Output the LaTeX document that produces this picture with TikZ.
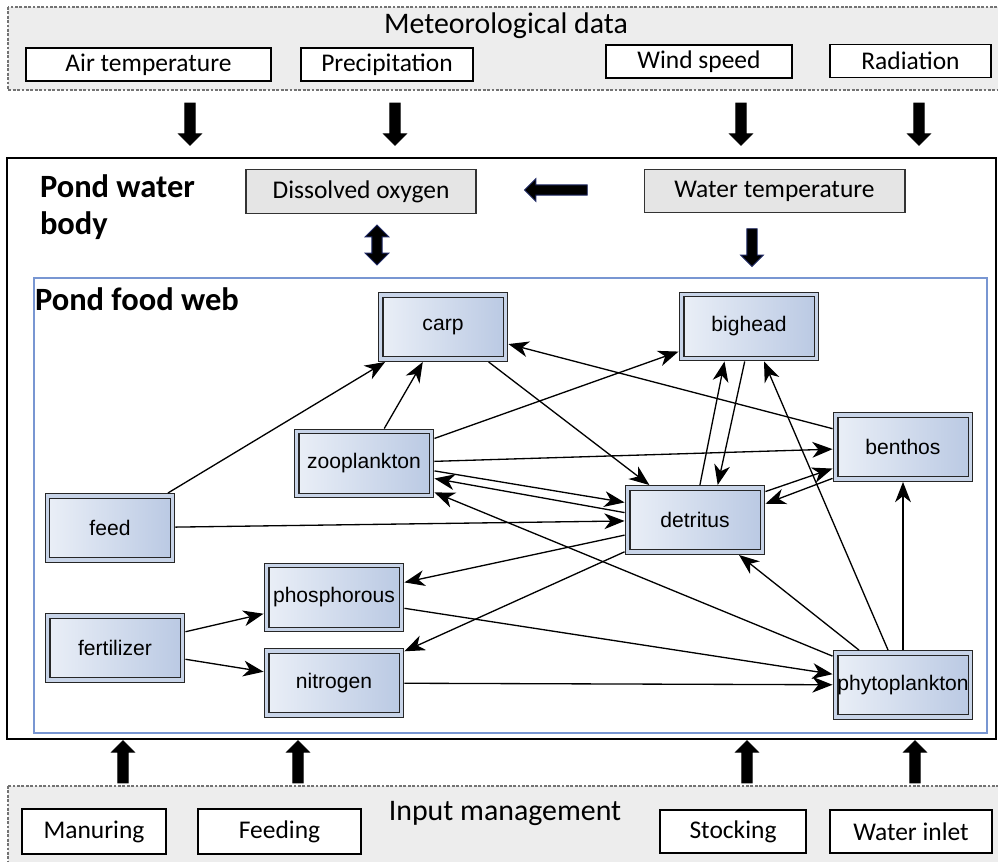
\documentclass[tikz,border=0pt]{standalone}
\usepackage{fontspec}
\setmainfont{Carlito}
\newfontfamily\webfamily{Liberation Sans}
\usetikzlibrary{arrows.meta,shapes.arrows,shadows}
\definecolor{rimblue}{RGB}{200,212,232}
\definecolor{webleft}{RGB}{234,239,247}
\definecolor{webright}{RGB}{186,201,227}
\definecolor{webframe}{RGB}{120,150,210}
\definecolor{arrowrim}{RGB}{30,40,100}
\newcommand\metfont{\fontsize{14.5}{17}\selectfont}
\newcommand\titlefont{\fontsize{17}{20}\selectfont}
\newcommand\headfont{\fontsize{18.5}{21}\selectfont\bfseries}
\newcommand\netfont{\webfamily\fontsize{12}{14}\selectfont}
\begin{document}
\begin{tikzpicture}[x=0.02cm,y=-0.02cm,inner sep=0pt,outer sep=0pt,
band/.style={draw=black!55,fill=black!7,line width=0.6pt,dash pattern=on 1.6pt off 0.9pt},
metbox/.style={draw,fill=white,line width=0.6pt,minimum height=0.66cm,font=\metfont},
waterbox/.style={draw=black!80,fill=black!10,line width=0.6pt,minimum height=0.87cm,font=\metfont},
webnode/.style={draw=black!85,double=rimblue,double distance=2pt,line width=0.7pt,left color=webleft,right color=webright,
  minimum width=2.7cm,minimum height=1.28cm,outer sep=1.7pt,font=\netfont,
  drop shadow={shadow xshift=1.6pt,shadow yshift=-1.6pt,opacity=0.35}},
link/.style={-{Stealth[length=11.5pt,width=9pt,inset=3.5pt]},line width=0.75pt},
fatarrow/.style={single arrow,fill=black,draw=black,line width=0.5pt,inner sep=2.7pt,single arrow head extend=3.5pt,minimum height=24pt},
rimarrow/.style={fatarrow,draw=arrowrim},
twoarrow/.style={double arrow,fill=black,draw=arrowrim,line width=0.5pt,inner sep=2.7pt,double arrow head extend=3.8pt,minimum height=22.7pt}]
\useasboundingbox (0,0) rectangle (998,862);
\draw[band] (8,7) rectangle (1006,90);
\draw[band] (8,786) rectangle (1006,870);
\draw[line width=1.4pt] (7,158) rectangle (996,739);
\draw[webframe,line width=0.6pt] (34,278) rectangle (987,733);

\draw (506,33) node[anchor=base,font=\titlefont] (met) {Meteorological data};
\draw (148.5,64.5) node[metbox,minimum width=4.9cm] (airT) {Air temperature};
\draw (387,64.5) node[metbox,minimum width=3.44cm] (prec) {Precipitation};
\draw (699,61.5) node[metbox,minimum width=3.72cm] (wind) {Wind speed};
\draw (910.5,61) node[metbox,minimum width=3.22cm] (rad) {Radiation};

\draw (190,121.5) node[fatarrow,rotate=-90] (m1) {};
\draw (395,121.5) node[fatarrow,rotate=-90] (m2) {};
\draw (741,121.5) node[fatarrow,rotate=-90] (m3) {};
\draw (919,121.5) node[fatarrow,rotate=-90] (m4) {};

\draw (40,175) node[anchor=north west,align=left,font=\headfont] (pond) {Pond water\\body};
\draw (361,191.5) node[waterbox,minimum width=4.6cm] (oxy) {Dissolved oxygen};
\draw (774.5,191) node[waterbox,minimum width=5.22cm] (wtemp) {Water temperature};
\draw (558.5,190) node[rimarrow,rotate=180,minimum height=35.7pt] (w1) {};
\draw (377,245) node[twoarrow,rotate=90] (w2) {};
\draw (752,245) node[rimarrow,rotate=-90,minimum height=21.5pt] (w3) {};

\draw (35,288) node[anchor=north west,font=\headfont] (web) {Pond food web};
\draw (443,327) node[webnode,minimum width=2.5cm] (carp) {carp};
\draw (749,326.5) node[webnode] (bighead) {bighead};
\draw (364,463.5) node[webnode] (zoo) {zooplankton};
\draw (903,447) node[webnode] (benthos) {benthos};
\draw (110,528) node[webnode,minimum width=2.5cm] (feed) {feed};
\draw (695,520) node[webnode] (det) {detritus};
\draw (334,597.5) node[webnode] (phos) {phosphorous};
\draw (115,648) node[webnode] (fert) {fertilizer};
\draw (334,683) node[webnode] (nitro) {nitrogen};
\draw (903,685) node[webnode] (phyto) {phytoplankton};

\draw[link] (feed) -- (carp);
\draw[link] (zoo) -- (carp);
\draw[link] (carp) -- (det);
\draw[link] (zoo) -- (bighead);
\draw[link] (benthos) -- (carp);
\draw[link] (zoo) -- (benthos);
\draw[link] (zoo.-6) -- (det.166);
\draw[link] (det.174) -- (zoo.-12);
\draw[link] (phyto) -- (zoo);
\draw[link] (feed) -- (det);
\draw[link] (det) -- (phos);
\draw[link] (det) -- (nitro);
\draw[link] (fert) -- (phos);
\draw[link] (fert) -- (nitro);
\draw[link] (phos) -- (phyto);
\draw[link] (nitro) -- (phyto);
\draw[link] (det.82) -- (bighead.235);
\draw[link] (bighead.263) -- (det.57);
\draw[link] (phyto) -- (bighead);
\draw[link] (phyto) -- (benthos);
\draw[link] (phyto) -- (det);
\draw[link] (det.22) -- (benthos.197);
\draw[link] (benthos.204) -- (det.13);

\draw (123,764.5) node[fatarrow,rotate=90] (i1) {};
\draw (298,764.5) node[fatarrow,rotate=90] (i2) {};
\draw (747,764.5) node[fatarrow,rotate=90] (i3) {};
\draw (915,764.5) node[fatarrow,rotate=90] (i4) {};

\draw (505,820) node[anchor=base,font=\titlefont] (inp) {Input management};
\draw (94,831.5) node[metbox,minimum width=2.88cm,minimum height=0.9cm] (manure) {Manuring};
\draw (279.5,831.5) node[metbox,minimum width=3.26cm,minimum height=0.9cm] (feeding) {Feeding};
\draw (733,831.5) node[metbox,minimum width=2.92cm,minimum height=0.86cm] (stock) {Stocking};
\draw (911,831.5) node[metbox,minimum width=3.24cm,minimum height=0.86cm] (inlet) {Water inlet};
\end{tikzpicture}
\end{document}
